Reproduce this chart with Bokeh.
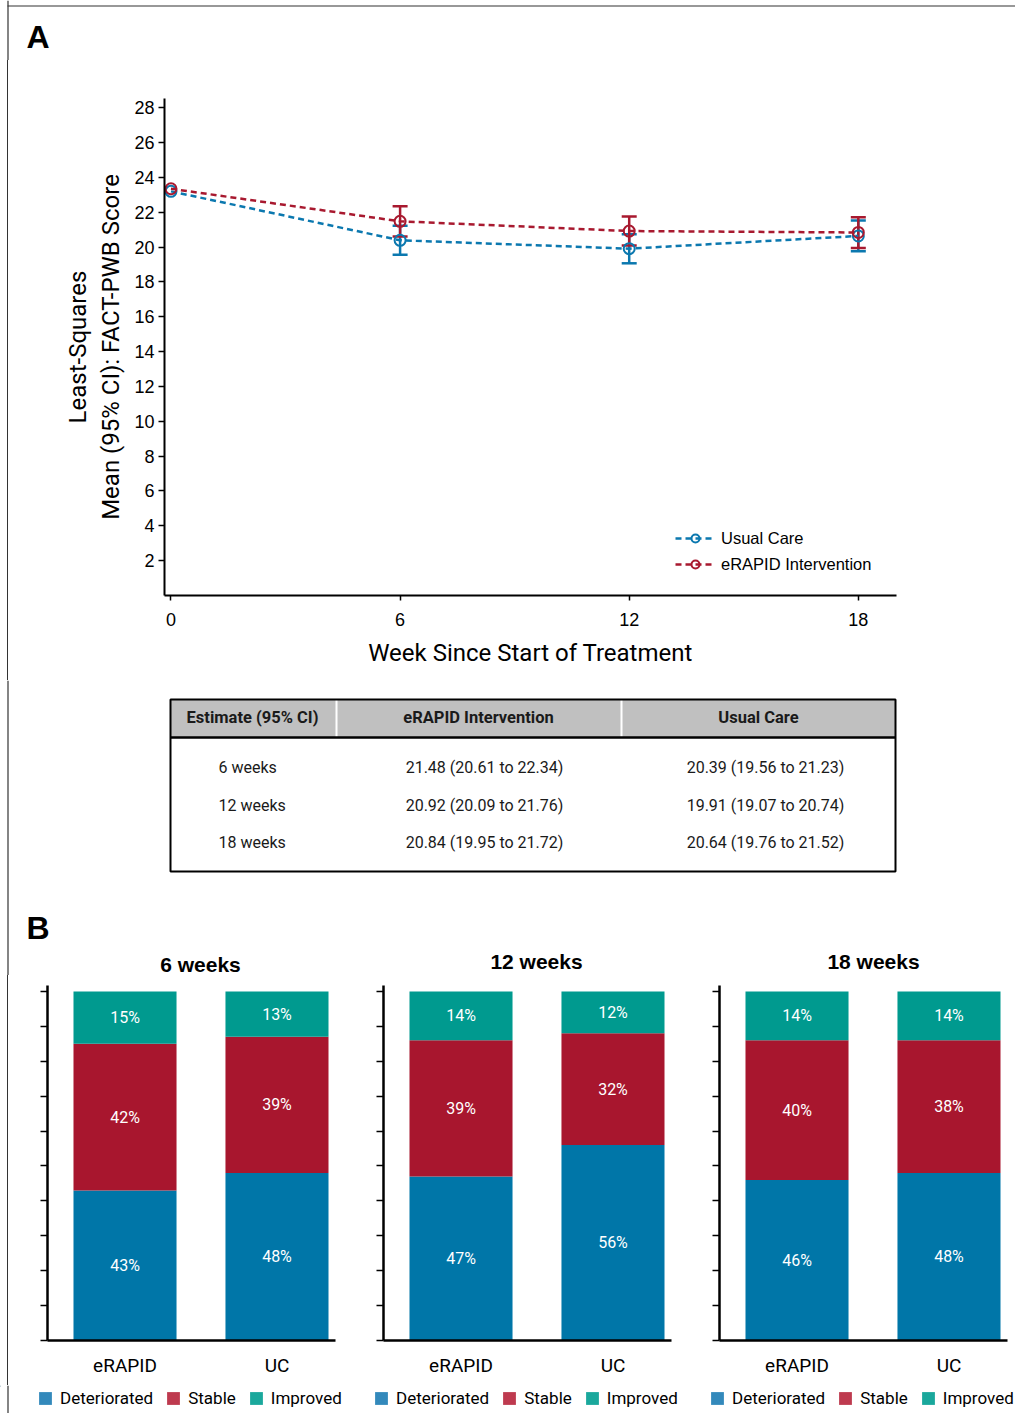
from bokeh.plotting import figure
from bokeh.models import (Range1d, FixedTicker, Whisker, TeeHead, ColumnDataSource,
                          Legend, LegendItem)
from bokeh.layouts import row
from bokeh.embed import file_html
from bokeh.resources import INLINE
from bokeh.core.properties import value

# ---------------- data ----------------
weeks = [0, 6, 12, 18]
uc_mean = [23.2, 20.39, 19.91, 20.64]
erapid_mean = [23.35, 21.48, 20.92, 20.84]
ci_weeks = [6, 12, 18]
uc_lower = [19.56, 19.07, 19.76]
uc_upper = [21.23, 20.74, 21.52]
er_lower = [20.61, 20.09, 19.95]
er_upper = [22.34, 21.76, 21.72]
y_ticks = [2, 4, 6, 8, 10, 12, 14, 16, 18, 20, 22, 24, 26, 28]
x_ticks = [0, 6, 12, 18]

table_header = ["Estimate (95% CI)", "eRAPID Intervention", "Usual Care"]
table_rows = ["6 weeks", "12 weeks", "18 weeks"]
table_erapid = ["21.48 (20.61 to 22.34)", "20.92 (20.09 to 21.76)", "20.84 (19.95 to 21.72)"]
table_uc = ["20.39 (19.56 to 21.23)", "19.91 (19.07 to 20.74)", "20.64 (19.76 to 21.52)"]

panel_titles = ["6 weeks", "12 weeks", "18 weeks"]
groups = ["eRAPID", "UC"]
statuses = ["Deteriorated", "Stable", "Improved"]
deteriorated = [[43, 48], [47, 56], [46, 48]]
stable = [[42, 39], [39, 32], [40, 38]]
improved = [[15, 13], [14, 12], [14, 14]]

# ---------------- style ----------------
W = 1015
BLUE = "#0B78AF"
RED = "#A8192F"
BAR_COLORS = ["#0076A8", "#A8162E", "#009A8F"]
KEY_COLORS = ["#3389BB", "#BE3A4F", "#1AA89C"]
SANS = "Liberation Sans"
ROB = "Roboto"
TXT = "#1a1a1a"
FRAME = "#333333"
FRAME_CSS = {"background": "linear-gradient(to right, transparent 7px, #333333 7px, "
                           "#333333 8px, transparent 8px)"}


def blank(width, height):
    f = figure(width=width, height=height, x_range=Range1d(0, width), y_range=Range1d(height, 0),
               toolbar_location=None, output_backend="svg", min_border=0,
               x_axis_location=None, y_axis_location=None)
    f.grid.visible = False
    f.outline_line_color = None
    f.segment(x0=[7.5], y0=[0], x1=[7.5], y1=[height], line_color=FRAME, line_width=1.2)
    return f


# ---- strip with "A"
sA = blank(W, 60)
sA.segment(x0=[7], y0=[5.5], x1=[W], y1=[5.5], line_color=FRAME, line_width=1.2)
sA.text(x=[26], y=[36], text=["A"], text_font=value(SANS), text_font_style="bold",
        text_font_size="32px", text_baseline="middle", text_color="black")

# ---- line chart A
pA = figure(width=W, height=620, x_range=Range1d(-0.17, 19), y_range=Range1d(0, 28.53),
            toolbar_location=None, output_backend="svg",
            min_border_left=164, min_border_right=119, min_border_top=38, min_border_bottom=85)
pA.grid.visible = False
pA.outline_line_color = None
pA.border_fill_color = None
pA.background_fill_color = None
pA.styles = FRAME_CSS

ya = pA.yaxis[0]
ya.ticker = FixedTicker(ticks=y_ticks)
ya.major_tick_out = 6
ya.major_tick_in = 0
ya.minor_tick_out = 0
ya.minor_tick_in = 0
ya.axis_line_width = 2
ya.major_tick_line_width = 1.5
ya.major_label_text_font = SANS
ya.major_label_text_font_size = "18px"
ya.major_label_text_color = "black"
ya.major_label_standoff = 4
ya.axis_label = "Least-Squares\nMean (95% CI): FACT-PWB Score"
ya.axis_label_text_font = ROB
ya.axis_label_text_font_style = "normal"
ya.axis_label_text_font_size = "24px"
ya.axis_label_text_color = "black"
ya.axis_label_standoff = 6

xa = pA.xaxis[0]
xa.ticker = FixedTicker(ticks=x_ticks)
xa.major_tick_out = 5
xa.major_tick_in = 0
xa.minor_tick_out = 0
xa.minor_tick_in = 0
xa.axis_line_width = 2
xa.major_tick_line_width = 1.5
xa.major_label_text_font = SANS
xa.major_label_text_font_size = "18px"
xa.major_label_text_color = "black"
xa.major_label_standoff = 12
xa.axis_label = "Week Since Start of Treatment"
xa.axis_label_text_font = ROB
xa.axis_label_text_font_style = "normal"
xa.axis_label_text_font_size = "24px"
xa.axis_label_text_color = "black"
xa.axis_label_standoff = 10

src_uc = ColumnDataSource(dict(x=weeks, y=uc_mean))
src_er = ColumnDataSource(dict(x=weeks, y=erapid_mean))

l_uc = pA.line("x", "y", source=src_uc, line_color=BLUE, line_width=2.5, line_dash="6 4")
w_uc = Whisker(source=ColumnDataSource(dict(base=ci_weeks, lower=uc_lower, upper=uc_upper)),
               base="base", lower="lower", upper="upper", line_color=BLUE, line_width=2.5,
               upper_head=TeeHead(size=15, line_color=BLUE, line_width=2.5),
               lower_head=TeeHead(size=15, line_color=BLUE, line_width=2.5))
pA.add_layout(w_uc)
c_uc = pA.scatter("x", "y", source=src_uc, size=11, fill_color=None, line_color=BLUE, line_width=2)

l_er = pA.line("x", "y", source=src_er, line_color=RED, line_width=2.5, line_dash="6 4")
w_er = Whisker(source=ColumnDataSource(dict(base=ci_weeks, lower=er_lower, upper=er_upper)),
               base="base", lower="lower", upper="upper", line_color=RED, line_width=2.5,
               upper_head=TeeHead(size=15, line_color=RED, line_width=2.5),
               lower_head=TeeHead(size=15, line_color=RED, line_width=2.5))
pA.add_layout(w_er)
c_er = pA.scatter("x", "y", source=src_er, size=11, fill_color=None, line_color=RED, line_width=2)

legA = Legend(items=[LegendItem(label="Usual Care", renderers=[l_uc, c_uc]),
                     LegendItem(label="eRAPID Intervention", renderers=[l_er, c_er])],
              location=(511, 21), padding=0, margin=0, border_line_color=None,
              background_fill_alpha=0, glyph_width=40, glyph_height=20, label_height=20,
              label_standoff=6, spacing=6, label_text_font=SANS, label_text_font_size="16.5px",
              label_text_color="black")
pA.add_layout(legA)

# ---- table + "B" + panel titles
pT = blank(W, 295)
tl, tr, ttop, thead, tbot = 170, 895, 19, 57, 191
pT.quad(left=[tl], right=[tr], top=[ttop], bottom=[thead], fill_color="#C0C0C0", line_color=None)
pT.segment(x0=[336, 621], y0=[ttop, ttop], x1=[336, 621], y1=[thead, thead], line_color="white", line_width=2)
pT.quad(left=[tl], right=[tr], top=[ttop], bottom=[tbot], fill_color=None, line_color="black", line_width=2)
pT.segment(x0=[tl], y0=[thead], x1=[tr], y1=[thead], line_color="black", line_width=2.5)

head_x = [252, 478, 758]
pT.text(x=head_x, y=[37] * 3, text=table_header, text_font=value(ROB), text_font_style="bold",
        text_font_size="16.5px", text_align="center", text_baseline="middle", text_color=TXT)
row_y = [87, 125, 162]
pT.text(x=[218] * 3, y=row_y, text=table_rows, text_font=value(ROB), text_font_size="16px",
        text_align="left", text_baseline="middle", text_color=TXT)
pT.text(x=[484] * 3, y=row_y, text=table_erapid, text_font=value(ROB), text_font_size="16px",
        text_align="center", text_baseline="middle", text_color=TXT)
pT.text(x=[765] * 3, y=row_y, text=table_uc, text_font=value(ROB), text_font_size="16px",
        text_align="center", text_baseline="middle", text_color=TXT)
pT.text(x=[26], y=[247], text=["B"], text_font=value(SANS), text_font_style="bold",
        text_font_size="32px", text_baseline="middle", text_color="black")
pT.text(x=[200, 536, 873], y=[284, 281, 281], text=panel_titles, text_font=value(SANS),
        text_font_style="bold", text_font_size="21px", text_align="center",
        text_baseline="middle", text_color="black")

# ---- bar panels
panels = []
widths = [336, 336, 343]
right_borders = [1, 1, 8]
xs = [i + 0.5 for i in range(len(groups))]
for k in range(3):
    b = figure(width=widths[k], height=410, x_range=Range1d(-0.01, 1.885), y_range=Range1d(0, 101.7),
               toolbar_location=None, output_backend="svg",
               min_border_left=47, min_border_right=right_borders[k], min_border_top=10, min_border_bottom=45)
    b.grid.visible = False
    b.outline_line_color = None
    if k == 0:
        b.border_fill_color = None
        b.background_fill_color = None
        b.styles = FRAME_CSS

    src = ColumnDataSource(dict(x=xs, Deteriorated=deteriorated[k], Stable=stable[k], Improved=improved[k]))
    b.vbar_stack(statuses, x="x", width=0.678, color=BAR_COLORS, line_color=None, source=src)

    lab_x, lab_y, lab_t = [], [], []
    for i in range(len(groups)):
        base = 0
        for vals in (deteriorated[k], stable[k], improved[k]):
            v = vals[i]
            lab_x.append(xs[i])
            lab_y.append(base + v / 2)
            lab_t.append(f"{v}%")
            base += v
    b.text(x=lab_x, y=lab_y, text=lab_t, text_color="white", text_font=value(ROB),
           text_font_size="16px", text_align="center", text_baseline="middle")

    yb = b.yaxis[0]
    yb.ticker = FixedTicker(ticks=list(range(0, 101, 10)))
    yb.major_tick_out = 7
    yb.major_tick_in = 0
    yb.minor_tick_out = 0
    yb.minor_tick_in = 0
    yb.axis_line_width = 2.5
    yb.major_tick_line_width = 1.5
    yb.major_label_text_color = None
    yb.major_label_standoff = 0

    xb = b.xaxis[0]
    xb.ticker = FixedTicker(ticks=xs)
    xb.major_label_overrides = {x: g for x, g in zip(xs, groups)}
    xb.major_tick_out = 0
    xb.major_tick_in = 0
    xb.minor_tick_out = 0
    xb.minor_tick_in = 0
    xb.axis_line_width = 2.5
    xb.major_label_text_font = ROB
    xb.major_label_text_font_size = "19px"
    xb.major_label_text_color = "black"
    xb.major_label_standoff = 13
    panels.append(b)

# ---- colour keys under the panels (key swatches sit outside the visible strip)
sK = blank(W, 28)
key_rends = [sK.vbar(x=[-500], top=[0], bottom=[1], width=1, fill_color=c, line_color=None)
             for c in KEY_COLORS]
for x0 in [37, 373, 709]:
    leg = Legend(items=[LegendItem(label=s, renderers=[r]) for s, r in zip(statuses, key_rends)],
                 orientation="horizontal", location=(x0, 5), padding=0, margin=0,
                 border_line_color=None, background_fill_alpha=0, glyph_width=16, glyph_height=16,
                 label_height=16, label_standoff=7, spacing=12, label_text_font=ROB,
                 label_text_font_size="17px", label_text_color="black")
    sK.add_layout(leg)

open("out.html", "w").write(file_html([sA, pA, pT, row(*panels), sK], INLINE))
